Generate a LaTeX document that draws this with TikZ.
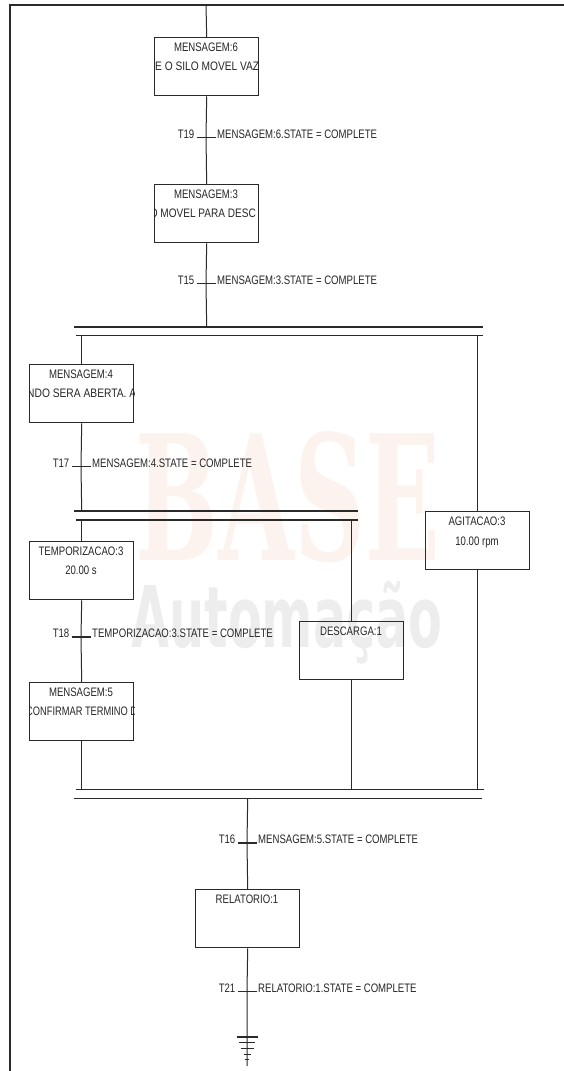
\documentclass[tikz,border=0pt]{standalone}
\usepackage{fontspec}
\usepackage{graphicx}
\setmainfont{Liberation Sans}[FakeStretch=0.78]
\newfontfamily\wmserif{DejaVu Serif}
\newfontfamily\wmsans{DejaVu Sans}
\definecolor{ln}{HTML}{2A2A2A}
\definecolor{txt}{HTML}{262626}
\definecolor{wmb}{HTML}{FCF3EE}
\definecolor{wma}{HTML}{EDEDED}
\begin{document}
\begin{tikzpicture}[x=1pt,y=-1pt,
  lbl/.style={inner sep=0pt, text=txt, font=\fontsize{12.3}{14}\selectfont},
  stepbox/.style={draw=ln, line width=1.4pt, minimum width=104pt, minimum height=58pt, inner sep=0pt, anchor=north west},
  conn/.style={draw=ln, line width=1pt},
  tbar/.style={fill=ln, minimum width=19pt, minimum height=1.6pt, inner sep=0pt},
  pbar/.style={fill=ln, minimum height=1.6pt, inner sep=0pt},
  gbar/.style={draw=ln, line width=1.5pt}]
\useasboundingbox (0,0) rectangle (564,1071);

% watermark
\node[anchor=base, inner sep=0pt, text=wmb] (wmB) at (288,560) {\resizebox{305pt}{\height}{\wmserif\bfseries\fontsize{174}{174}\selectfont BASE}};
\node[anchor=base, inner sep=0pt, text=wma] (wmA) at (287,647) {\resizebox{311pt}{\height}{\wmsans\bfseries\fontsize{85}{85}\selectfont Automação}};

% border
\coordinate (bTR) at (564,4.5);
\coordinate (bTL) at (10,4.5);
\coordinate (bBL) at (10,1071);
\draw[draw=ln, line width=2pt] (bTR) -- (bTL) -- (bBL);

% steps
\node[stepbox] (A) at (154,37) {};
\node[stepbox] (B) at (154,184) {};
\node[stepbox] (C) at (29,364) {};
\node[stepbox] (D) at (29,541) {};
\node[stepbox] (E) at (29,682) {};
\node[stepbox] (F) at (299,621) {};
\node[stepbox] (G) at (425,511) {};
\node[stepbox] (H) at (195,889) {};

% step texts
\node[lbl, anchor=base] (A1) at (206,51) {MENSAGEM:6};
\begin{scope}
\clip (A.north west) rectangle (A.south east);
\node[lbl, anchor=base west] (A2) at (155,70) {\resizebox{104pt}{\height}{E O SILO MOVEL VAZ}};
\end{scope}
\node[lbl, anchor=base] (B1) at (206,198) {MENSAGEM:3};
\begin{scope}
\clip (B.north west) rectangle (B.south east);
\node[lbl, anchor=base east] (B2) at (256,217) {\resizebox{106pt}{\height}{O MOVEL PARA DESC}};
\end{scope}
\node[lbl, anchor=base] (C1) at (81,378) {MENSAGEM:4};
\begin{scope}
\clip (C.north west) rectangle (C.south east);
\node[lbl, anchor=base west] (C2) at (27,397) {\resizebox{109pt}{\height}{NDO SERA ABERTA. A}};
\end{scope}
\node[lbl, anchor=base] (D1) at (81,555) {TEMPORIZACAO:3};
\node[lbl, anchor=base] (D2) at (81,574) {20.00 s};
\node[lbl, anchor=base] (E1) at (81,696) {MENSAGEM:5};
\begin{scope}
\clip (E.north west) rectangle (E.south east);
\node[lbl, anchor=base west] (E2) at (26,715) {\resizebox{111pt}{\height}{CONFIRMAR TERMINO D}};
\end{scope}
\node[lbl, anchor=base] (F1) at (351,635) {DESCARGA:1};
\node[lbl, anchor=base] (G1) at (477,525) {AGITACAO:3};
\node[lbl, anchor=base] (G2) at (477,545) {10.00 rpm};
\node[lbl, anchor=base] (H1) at (247,903) {RELATORIO:1};

% transitions
\node[tbar] (T19) at (206,137.5) {};
\node[lbl, anchor=base east] (T19l) at (194.5,138) {T19};
\node[lbl, anchor=base west] (T19c) at (217,138) {MENSAGEM:6.STATE = COMPLETE};
\node[tbar] (T15) at (206,283.5) {};
\node[lbl, anchor=base east] (T15l) at (194.5,284) {T15};
\node[lbl, anchor=base west] (T15c) at (217,284) {MENSAGEM:3.STATE = COMPLETE};
\node[tbar] (T17) at (81,466.5) {};
\node[lbl, anchor=base east] (T17l) at (69.5,467) {T17};
\node[lbl, anchor=base west] (T17c) at (92,467) {MENSAGEM:4.STATE = COMPLETE};
\node[tbar] (T18) at (81,637) {};
\node[lbl, anchor=base east] (T18l) at (69.5,637.5) {T18};
\node[lbl, anchor=base west] (T18c) at (92,637.5) {TEMPORIZACAO:3.STATE = COMPLETE};
\node[tbar] (T16) at (247,843) {};
\node[lbl, anchor=base east] (T16l) at (235.5,843.5) {T16};
\node[lbl, anchor=base west] (T16c) at (258,843.5) {MENSAGEM:5.STATE = COMPLETE};
\node[tbar] (T21) at (247,991.5) {};
\node[lbl, anchor=base east] (T21l) at (235.5,992) {T21};
\node[lbl, anchor=base west] (T21c) at (258,992) {RELATORIO:1.STATE = COMPLETE};

% parallel bars
\node[pbar, minimum width=409pt] (P1a) at (278.5,327) {};
\node[pbar, minimum width=407pt] (P1b) at (279.5,335.5) {};
\node[pbar, minimum width=284pt] (P2a) at (216,511) {};
\node[pbar, minimum width=282pt] (P2b) at (217,520) {};
\node[pbar, minimum width=408pt] (P3a) at (280,789.5) {};
\node[pbar, minimum width=408pt] (P3b) at (278,798.5) {};

% connectors
\coordinate (top) at (206,4.5);
\coordinate (gnd) at (247,1066);
\draw[conn] (top) -- (A.north);
\draw[conn] (A.south) -- (T19.center) -- (B.north);
\draw[conn] (B.south) -- (T15.center) -- (B.south |- P1a.center);
\draw[conn] (P1b.center -| C.north) -- (C.north);
\draw[conn] (P1b.center -| G.north) -- (G.north);
\draw[conn] (C.south) -- (T17.center) -- (C.south |- P2a.center);
\draw[conn] (P2b.center -| D.north) -- (D.north);
\draw[conn] (P2b.center -| F.north) -- (F.north);
\draw[conn] (D.south) -- (T18.center) -- (E.north);
\draw[conn] (E.south) -- (E.south |- P3a.center);
\draw[conn] (F.south) -- (F.south |- P3a.center);
\draw[conn] (G.south) -- (G.south |- P3a.center);
\draw[conn] (P3b.center -| H.north) -- (T16.center) -- (H.north);
\draw[conn] (H.south) -- (T21.center) -- (gnd);

% end symbol
\foreach \yy/\w in {1037/21,1042.5/16,1048.5/13,1054.5/7,1059.5/4}
  \draw[gbar] (247-\w/2,\yy) -- (247+\w/2,\yy);
\end{tikzpicture}
\end{document}
